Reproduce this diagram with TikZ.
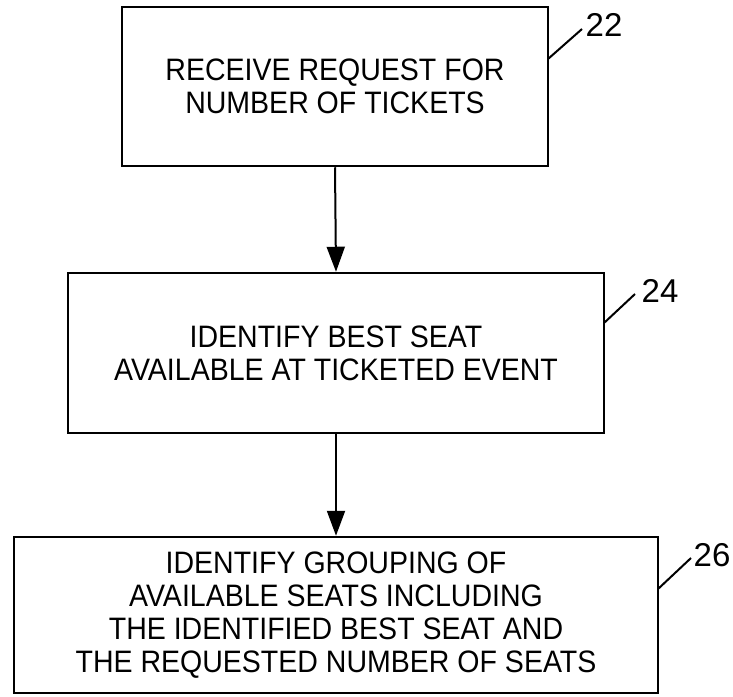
\documentclass[tikz,border=0pt]{standalone}
\usepackage{fontspec}
\setmainfont{Liberation Sans}
\newfontfamily\boxfont{Liberation Sans}[FakeStretch=0.92]
\usetikzlibrary{arrows.meta}
\tikzset{
  stepbox/.style={draw, line width=2.5pt, align=center, inner sep=0pt,
    font=\boxfont\fontsize{31}{33}\selectfont},
  flow/.style={draw, line width=2pt, -{Triangle[length=25pt,width=18pt]}},
  leader/.style={draw, line width=2pt},
  reflabel/.style={inner sep=0pt, font=\fontsize{33}{36}\selectfont}
}
\begin{document}
\begin{tikzpicture}[x=1pt,y=-1pt]
\useasboundingbox (0,0) rectangle (733,696);
\node[stepbox, minimum width=426pt, minimum height=159pt] (b1) at (335,86.5)
  {RECEIVE REQUEST FOR\\NUMBER OF TICKETS};
\node[stepbox, minimum width=536pt, minimum height=160pt] (b2) at (336,353)
  {IDENTIFY BEST SEAT\\AVAILABLE AT TICKETED EVENT};
\node[stepbox, minimum width=644pt, minimum height=156pt] (b3) at (336,615)
  {IDENTIFY GROUPING OF\\AVAILABLE SEATS INCLUDING\\THE IDENTIFIED BEST SEAT AND\\THE REQUESTED NUMBER OF SEATS};
\draw[flow] (b1.south) -- (b2.north);
\draw[flow] (b2.south) -- (b3.north);
\node[reflabel] (l22) at (604,25) {22};
\node[reflabel] (l24) at (660,291) {24};
\node[reflabel] (l26) at (712,555) {26};
\coordinate (s22) at (548,59);  \coordinate (e22) at (582,29);
\coordinate (s24) at (604,323); \coordinate (e24) at (635,294);
\coordinate (s26) at (658,589); \coordinate (e26) at (691,558);
\draw[leader] (s22) -- (e22);
\draw[leader] (s24) -- (e24);
\draw[leader] (s26) -- (e26);
\end{tikzpicture}
\end{document}
